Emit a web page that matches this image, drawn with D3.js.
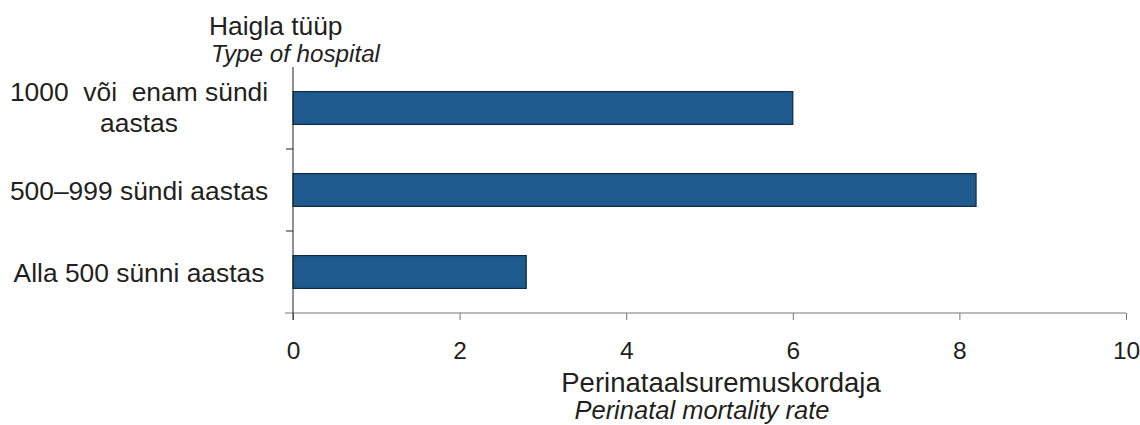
<!DOCTYPE html>
<html><head><meta charset="utf-8">
<script src="https://cdn.jsdelivr.net/npm/d3@7"></script>
<style>body{margin:0;background:#fff}text{font-family:"Liberation Sans",Arial,sans-serif;fill:#231f20;white-space:pre}</style>
</head><body>
<svg id="c" width="1140" height="425"></svg>
<script>
const categories = [["1000  või  enam sündi","aastas"],["500–999 sündi aastas"],["Alla 500 sünni aastas"]];
const values = [6.0, 8.2, 2.8];
const xTicks = [0, 2, 4, 6, 8, 10];
const yTitle = ["Haigla tüüp", "Type of hospital"];
const xTitle = ["Perinataalsuremuskordaja", "Perinatal mortality rate"];

const svg = d3.select("#c");
const x = d3.scaleLinear().domain([0, 10]).range([293, 1126]);
const y = d3.scaleBand().domain(d3.range(categories.length)).range([67, 313]).paddingInner(0.6).paddingOuter(0.3);

// bars
svg.selectAll("rect.bar").data(values).join("rect")
  .attr("x", x(0)).attr("y", (d,i)=>y(i))
  .attr("width", d=>x(d)-x(0)).attr("height", y.bandwidth())
  .attr("fill", "#1f5a8e").attr("stroke", "#0f2b47").attr("stroke-width", 1.2);

// x axis
const xAxis = d3.axisBottom(x).tickValues(xTicks).tickSize(7).tickSizeOuter(0)
  .tickFormat(d3.format("d"));
const gx = svg.append("g").attr("transform", "translate(0,313)").call(xAxis);
gx.select(".domain").attr("stroke", "#777").attr("d", `M${x(0)-8},0H${x(10)}`);
gx.selectAll(".tick line").attr("stroke", "#777");
gx.selectAll(".tick text").attr("font-size", 24.5).attr("fill", "#231f20")
  .attr("font-family", "Liberation Sans, Arial, sans-serif").attr("y", 46).attr("dy", 0);

// y axis line
svg.append("line").attr("x1", x(0)).attr("x2", x(0)).attr("y1", 67).attr("y2", 320)
  .attr("stroke", "#222").attr("stroke-width", 1);
// y ticks at band boundaries
const step = y.step();
[1, 2].forEach(i => {
  const yy = 67 + step * i;
  svg.append("line").attr("x1", x(0) - 7).attr("x2", x(0)).attr("y1", yy).attr("y2", yy)
    .attr("stroke", "#222");
});

// category labels
categories.forEach((lines, i) => {
  const cy = y(i) + y.bandwidth() / 2;
  const n = lines.length;
  lines.forEach((t, j) => {
    const base = n > 1 ? 101 + j * 31 : cy + 9.5;
    svg.append("text").attr("x", 139).attr("y", base)
      .attr("text-anchor", "middle").attr("font-size", 26.4).text(t);
  });
});

// y title
svg.append("text").attr("x", 209).attr("y", 35).attr("font-size", 26.4).text(yTitle[0]);
svg.append("text").attr("x", 211).attr("y", 62).attr("font-size", 24.2).attr("font-style", "italic").text(yTitle[1]);

// x title
svg.append("text").attr("x", 721).attr("y", 392).attr("text-anchor", "middle").attr("font-size", 27.5).text(xTitle[0]);
svg.append("text").attr("x", 702).attr("y", 419).attr("text-anchor", "middle").attr("font-size", 25.5).attr("font-style", "italic").text(xTitle[1]);
</script>
</body></html>
